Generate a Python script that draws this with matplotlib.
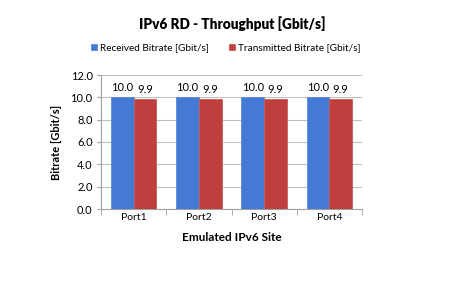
import matplotlib
matplotlib.use("Agg")
import matplotlib.pyplot as plt
import numpy as np

categories = ["Port1", "Port2", "Port3", "Port4"]
received = [10.0, 10.0, 10.0, 10.0]
transmitted = [9.86, 9.86, 9.86, 9.86]
yticks = [0, 2, 4, 6, 8, 10, 12]

plt.rcParams['font.family'] = ['Lato', 'DejaVu Sans']

fig = plt.figure(figsize=(4.53, 3.08), dpi=100)
ax = fig.add_axes([101/453, 1-209/308, 261/453, 134/308])

x = np.arange(len(categories))
w = 0.35
b1 = ax.bar(x - w/2, received, w, color="#4479d4", edgecolor="#5a8ae0", linewidth=0.6,
            label="Received Bitrate [Gbit/s]", zorder=3)
b2 = ax.bar(x + w/2, transmitted, w, color="#bf3f3f", edgecolor="#cc5a5a", linewidth=0.6,
            label="Transmitted Bitrate [Gbit/s]", zorder=3)
for bars in (b1, b2):
    for r in bars:
        ax.annotate(f"{r.get_height():.1f}", (r.get_x() + r.get_width()/2, r.get_height()),
                    xytext=(0, 3), textcoords="offset points", ha="center", va="bottom",
                    fontsize=8, color="black")

ax.set_xlim(-0.5, len(categories) - 0.5)
ax.set_ylim(0, 12)
ax.set_yticks(yticks)
ax.set_yticklabels([f"{v:.1f}" for v in yticks], fontsize=8)
ax.yaxis.grid(True, color="#bfbfbf", linewidth=0.8, zorder=0)
ax.set_xticks(x)
ax.set_xticklabels(categories, fontsize=7.5)
ax.tick_params(axis='x', length=0, pad=3)
ax.set_xticks(np.arange(-0.5, len(categories)), minor=True)
ax.tick_params(axis='x', which='minor', length=4, color="#a0a0a0")
ax.tick_params(axis='y', length=3, color="#a0a0a0", pad=3)
for s in ["top", "right"]:
    ax.spines[s].set_visible(False)
for s in ["left", "bottom"]:
    ax.spines[s].set_color("#a0a0a0")
    ax.spines[s].set_linewidth(0.8)

ax.set_ylabel("Bitrate [Gbit/s]", fontsize=8, fontweight="bold", labelpad=6)
ax.set_xlabel("Emulated IPv6 Site", fontsize=8.5, fontweight="bold", labelpad=7)

fig.text(232/453, 1-24/308, "IPv6 RD - Throughput [Gbit/s]", ha="center", va="center",
         fontsize=9.8, fontweight="heavy")
fig.legend(handles=[b1, b2], loc="center", bbox_to_anchor=(226/453, 1-48/308), ncol=2,
           frameon=False, fontsize=7.2, handlelength=0.6, handleheight=0.6,
           handletextpad=0.3, columnspacing=2.0)

fig.savefig("out.png", dpi=100, facecolor="white")
